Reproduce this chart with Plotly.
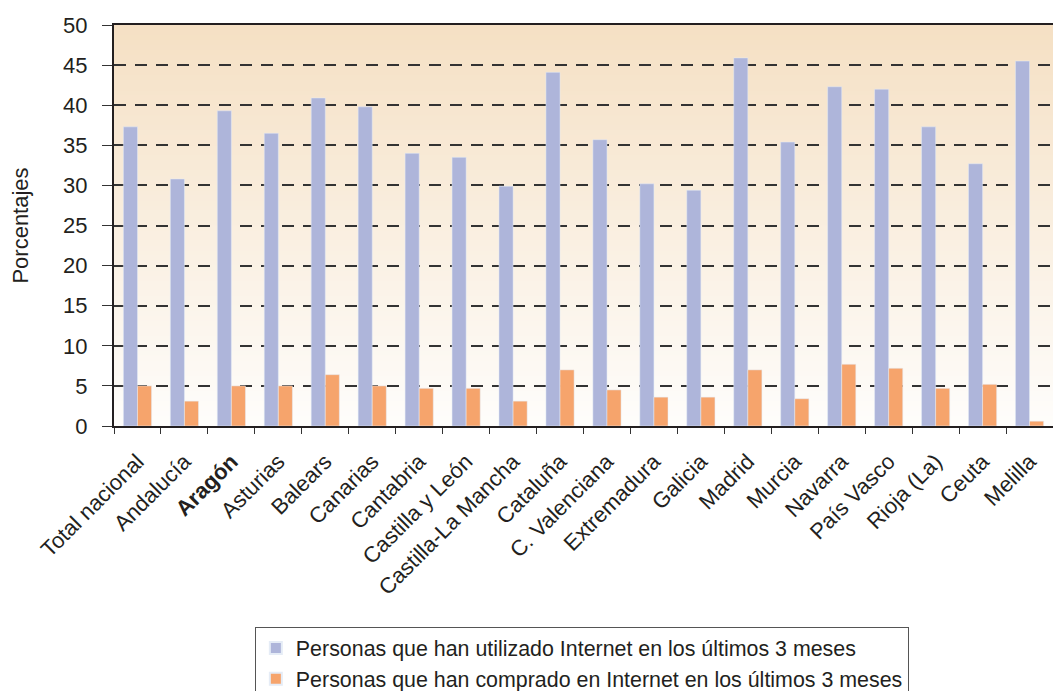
import plotly.graph_objects as go

# Regions (Spanish autonomous communities) plus national total
regiones = ["Total nacional", "Andalucía", "Aragón", "Asturias", "Balears", "Canarias",
            "Cantabria", "Castilla y León", "Castilla-La Mancha", "Cataluña",
            "C. Valenciana", "Extremadura", "Galicia", "Madrid", "Murcia", "Navarra",
            "País Vasco", "Rioja (La)", "Ceuta", "Melilla"]
etiquetas = [("<b>%s</b>" % r) if r == "Aragón" else r for r in regiones]

# Percentages of people who used / bought on the Internet in the last 3 months
usado_internet = [37.3, 30.8, 39.3, 36.5, 40.9, 39.8, 34.0, 33.5, 29.9, 44.1,
                  35.7, 30.2, 29.4, 45.9, 35.4, 42.3, 42.0, 37.3, 32.7, 45.5]
comprado_internet = [5.0, 3.1, 5.0, 5.0, 6.4, 5.0, 4.7, 4.7, 3.1, 7.0,
                     4.5, 3.6, 3.6, 7.0, 3.4, 7.7, 7.2, 4.7, 5.2, 0.6]

y_ticks = [0, 5, 10, 15, 20, 25, 30, 35, 40, 45, 50]

fig = go.Figure()
fig.add_trace(go.Bar(x=regiones, y=usado_internet, marker_color="#AEB5DA",
                     name="Personas que han utilizado Internet en los últimos 3 meses"))
fig.add_trace(go.Bar(x=regiones, y=comprado_internet, marker_color="#F6A46C",
                     name="Personas que han comprado en Internet en los últimos 3 meses"))

# Vertical gradient background of the plot area (peach at top fading to white)
top = (245, 224, 196)
bottom = (254, 253, 251)
n = 80
shapes = []
for i in range(n):
    t = i / (n - 1)
    c = tuple(round(bottom[k] + (top[k] - bottom[k]) * t) for k in range(3))
    shapes.append(dict(type="rect", xref="paper", yref="paper",
                       x0=0, x1=1, y0=i / n, y1=(i + 1) / n + 0.002,
                       fillcolor="rgb(%d,%d,%d)" % c, line_width=0, layer="below"))

txt = "#231F20"
fig.update_layout(
    width=1053, height=691,
    margin=dict(l=114, r=0, t=25, b=265, autoexpand=False),
    paper_bgcolor="white", plot_bgcolor="rgba(0,0,0,0)",
    barmode="group", bargap=0.4, bargroupgap=0,
    shapes=shapes,
    font=dict(family="Liberation Sans, Arial, sans-serif", color=txt),
    showlegend=True,
    legend=dict(x=0.150, y=-0.50, xanchor="left", yanchor="top",
                bordercolor="#555555", borderwidth=1, bgcolor="white",
                font=dict(size=21.4), traceorder="normal", tracegroupgap=0,
                itemsizing="constant"),
)
fig.update_xaxes(
    tickmode="array", tickvals=regiones, ticktext=etiquetas,
    tickangle=-45, tickfont=dict(size=22, color=txt),
    tickson="boundaries", ticks="outside", ticklen=6, tickcolor="#333333",
    ticklabelstandoff=12, automargin=False,
    showline=True, linecolor="#231F20", linewidth=2, mirror=True,
    showgrid=False, range=[-0.5, 19.5],
)
fig.update_yaxes(
    range=[0, 50], tickvals=y_ticks, tickfont=dict(size=22, color=txt),
    ticks="outside", ticklen=10, tickcolor="#333333", ticklabelstandoff=10,
    showline=True, linecolor="#231F20", linewidth=2, automargin=False,
    showgrid=True, gridcolor="#333333", gridwidth=1.6, griddash="12px,9px",
    zeroline=False,
    title=dict(text="Porcentajes", font=dict(size=22, color=txt), standoff=28),
)

fig.write_html("out.html")
